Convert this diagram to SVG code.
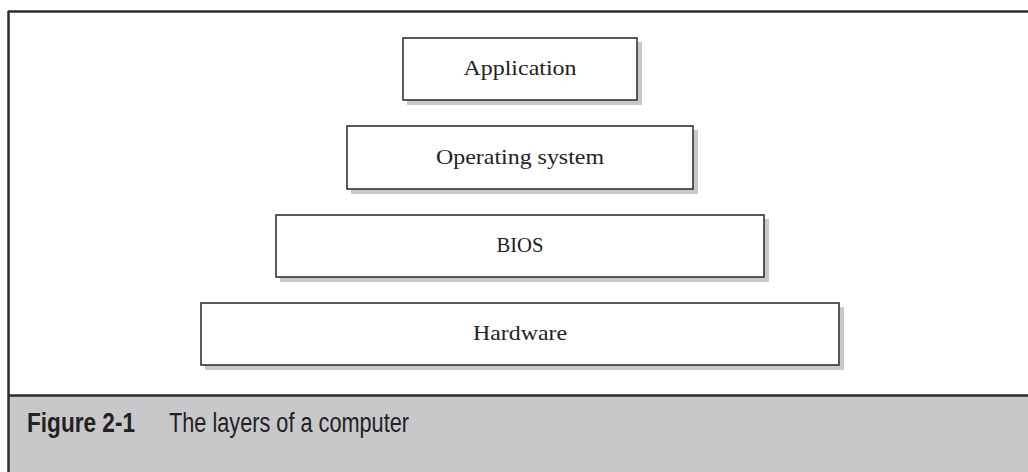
<svg xmlns="http://www.w3.org/2000/svg" width="1028" height="472" viewBox="0 0 1028 472">
<style>
.frame{stroke:#2b2b2b;stroke-width:2.5;fill:none}
.shadow{fill:#c9c9c9}
.box{fill:#ffffff;stroke:#333333;stroke-width:1.6}
.lbl{font-family:"Liberation Serif","Times New Roman",serif;font-size:21px;fill:#222222;text-anchor:middle}
.cap{font-family:"Liberation Sans",Arial,sans-serif;font-size:27px;fill:#222222}
</style>
<rect x="0" y="0" width="1028" height="472" fill="#ffffff"/>
<rect x="8" y="396" width="1020" height="76" fill="#c8c8ca"/>
<g id="frame">
<line class="frame" x1="8" y1="11.5" x2="1028" y2="11.5"/>
<line class="frame" x1="8.5" y1="11" x2="8.5" y2="472"/>
<line class="frame" x1="8" y1="395.5" x2="1028" y2="395.5"/>
</g>
<g id="application">
<rect class="shadow" x="407" y="42" width="235" height="63"/>
<rect class="box" x="403" y="38" width="234" height="62"/>
<text class="lbl" x="520" y="75" textLength="113" lengthAdjust="spacingAndGlyphs">Application</text>
</g>
<g id="operating-system">
<rect class="shadow" x="351" y="130" width="347" height="64"/>
<rect class="box" x="347" y="126" width="346" height="63"/>
<text class="lbl" x="520" y="164" textLength="168" lengthAdjust="spacingAndGlyphs">Operating system</text>
</g>
<g id="bios">
<rect class="shadow" x="280" y="219" width="489" height="63"/>
<rect class="box" x="276" y="215" width="488" height="62"/>
<text class="lbl" x="520" y="252" textLength="47" lengthAdjust="spacingAndGlyphs">BIOS</text>
</g>
<g id="hardware">
<rect class="shadow" x="205" y="307" width="639" height="63"/>
<rect class="box" x="201" y="303" width="638" height="62"/>
<text class="lbl" x="520" y="340" textLength="94" lengthAdjust="spacingAndGlyphs">Hardware</text>
</g>
<g id="connectors"></g>
<g id="caption">
<text class="cap" x="27" y="432" font-weight="bold" textLength="108" lengthAdjust="spacingAndGlyphs">Figure 2-1</text>
<text class="cap" x="169" y="432" textLength="240" lengthAdjust="spacingAndGlyphs">The layers of a computer</text>
</g>
</svg>
